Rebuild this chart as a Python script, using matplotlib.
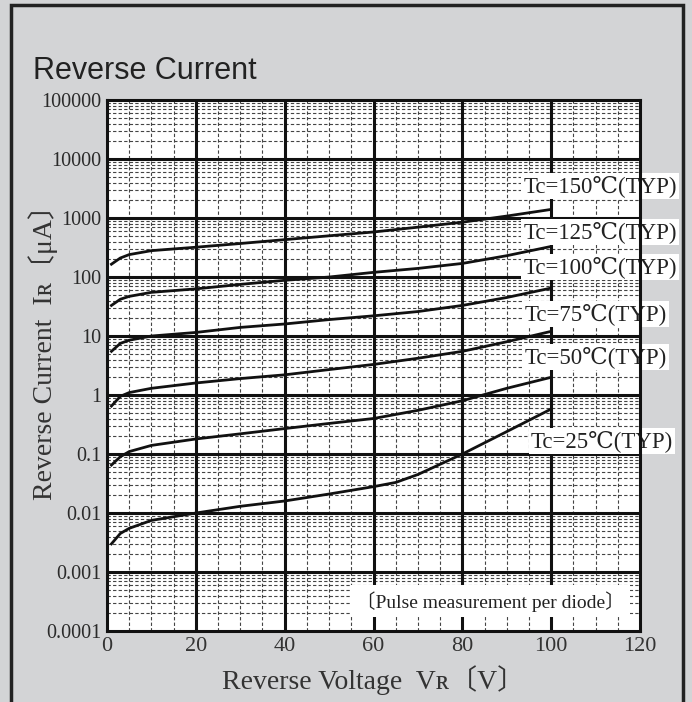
import matplotlib.pyplot as plt
from matplotlib.patches import Rectangle
import numpy as np

# datos
v_pts = [1, 3, 5, 10, 20, 30, 40, 50, 60, 70, 80, 90, 100]
ir_150 = [165, 210, 240, 280, 320, 370, 430, 500, 580, 700, 850, 1080, 1400]
ir_125 = [33, 42, 47, 55, 63, 75, 88, 100, 120, 140, 170, 230, 330]
ir_100 = [5.5, 7.5, 8.5, 10, 11.5, 14, 16, 19, 22, 26, 33, 45, 65]
ir_75 = [0.65, 0.95, 1.1, 1.3, 1.6, 1.9, 2.2, 2.7, 3.3, 4.2, 5.5, 8, 12]
ir_50 = [0.065, 0.09, 0.11, 0.14, 0.18, 0.22, 0.27, 0.33, 0.4, 0.55, 0.8, 1.3, 2.0]
v_25 = [1, 3, 5, 10, 20, 30, 40, 50, 60, 65, 70, 80, 90, 100]
ir_25 = [0.003, 0.0045, 0.0055, 0.0075, 0.01, 0.013, 0.016, 0.021, 0.028, 0.033,
         0.045, 0.1, 0.24, 0.58]

curvas = [(v_pts, ir_150), (v_pts, ir_125), (v_pts, ir_100),
          (v_pts, ir_75), (v_pts, ir_50), (v_25, ir_25)]
etiquetas = ["Tc=150℃(TYP)", "Tc=125℃(TYP)", "Tc=100℃(TYP)",
             "Tc=75℃(TYP)", "Tc=50℃(TYP)", "Tc=25℃(TYP)"]
etq_y = [3500, 575, 148, 23.5, 4.4, 0.166]
etq_x = [128.3, 128.3, 128.3, 126.0, 126.0, 127.5]

x_ticks = [0, 20, 40, 60, 80, 100, 120]
y_ticks = [1e-4, 1e-3, 1e-2, 1e-1, 1, 10, 100, 1000, 10000, 100000]
y_tick_labels = ["0.0001", "0.001", "0.01", "0.1", "1", "10", "100", "1000",
                 "10000", "100000"]

serif = ['Liberation Serif', 'DejaVu Serif', 'Noto Sans CJK JP']
fondo = '#d3d4d6'

fig = plt.figure(figsize=(6.92, 7.02), dpi=100)
fig.patch.set_facecolor(fondo)
fig.patches.append(Rectangle((0.0159, -0.02), 0.971, 1.0129, transform=fig.transFigure,
                             fill=False, edgecolor='#222222', linewidth=2.5))

ax = fig.add_axes([0.1546, 0.1011, 0.7703, 0.7564])
ax.set_facecolor('white')
ax.set_yscale('log')
ax.set_xlim(0, 120)
ax.set_ylim(1e-4, 1e5)

# rejilla menor (discontinua)
for xv in np.arange(5, 120, 5):
    if xv % 20 != 0:
        ax.axvline(xv, color='#444444', lw=0.8, ls=(0, (3, 2)), zorder=1)
for dec in range(-4, 5):
    for k in range(2, 10):
        ax.axhline(k * 10.0**dec, color='#444444', lw=0.8, ls=(0, (3, 2)), zorder=1)
# rejilla mayor
for xv in x_ticks[1:-1]:
    ax.axvline(xv, color='#111111', lw=2.2, zorder=2)
for yv in y_ticks[1:-1]:
    ax.axhline(yv, color='#111111', lw=2.2, zorder=2)

for v, i in curvas:
    ax.plot(v, i, color='#111111', lw=2.0, zorder=3)

for txt, xx, yy in zip(etiquetas, etq_x, etq_y):
    ax.text(xx, yy, txt, ha='right', va='center', fontsize=16.5, family=serif,
            color='#222222', zorder=5, clip_on=False,
            bbox=dict(facecolor='white', edgecolor='none', pad=1.5))

ax.text(86.2, 3.2e-4, "〔Pulse measurement per diode〕", ha='center', va='center',
        fontsize=14, family=serif, color='#222222', zorder=5,
        bbox=dict(facecolor='white', edgecolor='none', pad=4))

for s in ax.spines.values():
    s.set_linewidth(2.2)
    s.set_color('#111111')
    s.set_zorder(6)

ax.set_xticks(x_ticks)
ax.set_xticklabels([str(t) for t in x_ticks], fontsize=16, family=serif, color='#333333')
ax.set_yticks(y_ticks)
ax.set_yticklabels(y_tick_labels, fontsize=14.5, family=serif, color='#2a2a2a')
ax.minorticks_off()
ax.tick_params(length=0, pad=4)

ax.set_xlabel("Reverse Voltage  Vʀ〔V〕", fontsize=20, family=serif, color='#333333',
              labelpad=7)
ax.set_ylabel("Reverse Current  Iʀ〔μA〕", fontsize=20, family=serif, color='#333333')
ax.yaxis.set_label_coords(-0.092, 0.537)

fig.text(0.048, 0.888, "Reverse Current", fontsize=22, family='Liberation Sans',
         color='#222222', ha='left', va='baseline')

fig.savefig('out.png', dpi=100, facecolor=fondo)
